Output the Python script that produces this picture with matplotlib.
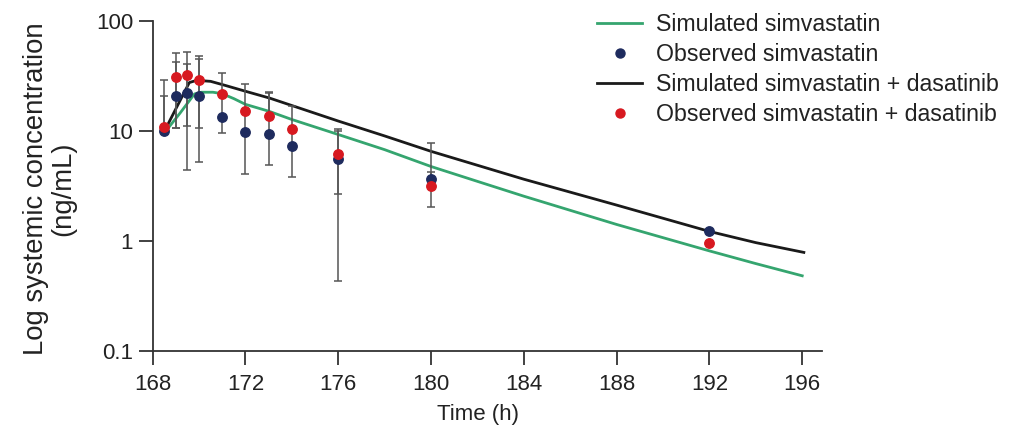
import matplotlib
matplotlib.use('Agg')
import matplotlib.pyplot as plt
from matplotlib.lines import Line2D
import numpy as np

plt.rcParams['font.family'] = ['Liberation Sans', 'DejaVu Sans']

# simulated profiles
sim_simva_t = [168.6, 169.18, 169.8, 170.1, 170.6, 171.0, 171.5, 172.0, 173.0, 174, 176, 178, 180, 182, 184, 188, 192, 194, 196]
sim_simva_c = [10.1, 14.4, 21.5, 22.3, 22.3, 21.6, 19.5, 17.3, 15.0, 12.6, 9.2, 6.7, 4.71, 3.45, 2.53, 1.40, 0.805, 0.617, 0.478]

sim_dasa_t = [168.53, 169.58, 169.8, 170.1, 170.5, 171.05, 172.05, 173.05, 176, 178, 180, 184, 188, 192, 194, 196.07]
sim_dasa_c = [10.1, 27.3, 28.2, 28.4, 28.0, 26.0, 22.6, 19.7, 12.2, 8.93, 6.47, 3.61, 2.10, 1.21, 0.957, 0.78]

# observed means and error bar ends
obs_t = [168.5, 169, 169.5, 170, 171, 172, 173, 174, 176, 180, 192]
obs_simva = [9.9, 20.6, 21.9, 20.4, 13.4, 9.8, 9.3, 7.2, 5.5, 3.6, 1.21]
obs_dasa = [10.8, 30.6, 32.0, 28.9, 21.4, 15.1, 13.7, 10.4, 6.1, 3.1, 0.95]

simva_upper = [20.4, 42.4, 40.2, 45.0, 21.4, 9.8, 21.9, 7.2, 10.0, 7.7, 1.21]
simva_lower = [9.9, 10.5, 4.4, 5.2, 9.5, 4.0, 4.9, 3.8, 0.43, 3.6, 1.21]
dasa_upper = [28.9, 50.6, 52.3, 47.7, 33.3, 26.6, 22.6, 16.8, 10.4, 4.2, 0.95]
dasa_lower = [10.8, 10.5, 11.1, 10.5, 21.4, 9.8, 13.7, 7.2, 2.64, 2.0, 0.95]

x_ticks = [168, 172, 176, 180, 184, 188, 192, 196]
y_ticks = [0.1, 1, 10, 100]
y_labels = ['0.1', '1', '10', '100']

green = '#35a56f'
navy = '#1e2b5e'
red = '#d71920'
grey = '#555555'
axis_col = '#333333'
txt_col = '#222222'

fig = plt.figure(figsize=(10.11, 4.28), dpi=100)
ax = fig.add_axes([0.151, 0.181, 0.662, 0.771])

ax.plot(sim_simva_t, sim_simva_c, color=green, lw=2.0, zorder=2)
ax.plot(sim_dasa_t, sim_dasa_c, color='#1a1a1a', lw=2.0, zorder=2)

for obs, lo, hi in [(obs_simva, simva_lower, simva_upper), (obs_dasa, dasa_lower, dasa_upper)]:
    obs = np.array(obs)
    yerr = [obs - np.array(lo), np.array(hi) - obs]
    ax.errorbar(obs_t, obs, yerr=yerr, fmt='none', ecolor=grey, elinewidth=1.1,
                capsize=3, capthick=1.1, zorder=3)

ax.plot(obs_t, obs_simva, 'o', color=navy, ms=6.8, zorder=4)
ax.plot(obs_t, obs_dasa, 'o', color=red, ms=6.8, zorder=5)

ax.set_yscale('log')
ax.set_xlim(168, 196.85)
ax.set_ylim(0.1, 100)
ax.set_xticks(x_ticks)
ax.set_xticklabels([str(t) for t in x_ticks])
ax.set_yticks(y_ticks)
ax.set_yticklabels(y_labels)
ax.minorticks_off()

for s in ['top', 'right']:
    ax.spines[s].set_visible(False)
for s in ['left', 'bottom']:
    ax.spines[s].set_linewidth(1.3)
    ax.spines[s].set_color(axis_col)
ax.tick_params(axis='both', length=10, width=1.3, color=axis_col, labelsize=16,
               labelcolor=txt_col)
ax.tick_params(axis='x', pad=7)
ax.tick_params(axis='y', pad=4)

ax.set_xlabel('Time (h)', fontsize=16, color=txt_col)
ax.xaxis.set_label_coords(0.486, -0.163)
ax.set_ylabel('Log systemic concentration\n(ng/mL)', fontsize=19.8, color=txt_col,
              linespacing=1.05)
ax.yaxis.set_label_coords(-0.114, 0.49)

handles = [
    Line2D([], [], color=green, lw=2.0),
    Line2D([], [], marker='o', ls='none', color=navy, ms=6.5),
    Line2D([], [], color='#1a1a1a', lw=2.0),
    Line2D([], [], marker='o', ls='none', color=red, ms=6.5),
]
labels = ['Simulated simvastatin', 'Observed simvastatin',
          'Simulated simvastatin + dasatinib', 'Observed simvastatin + dasatinib']
fig.legend(handles, labels, loc='upper left', bbox_to_anchor=(597 / 1011, 1 - 13 / 428),
           frameon=False, fontsize=16.7, handlelength=1.95, handletextpad=0.6,
           labelspacing=0.3, borderpad=0, borderaxespad=0, labelcolor=txt_col)

fig.savefig('out.png', dpi=100)
